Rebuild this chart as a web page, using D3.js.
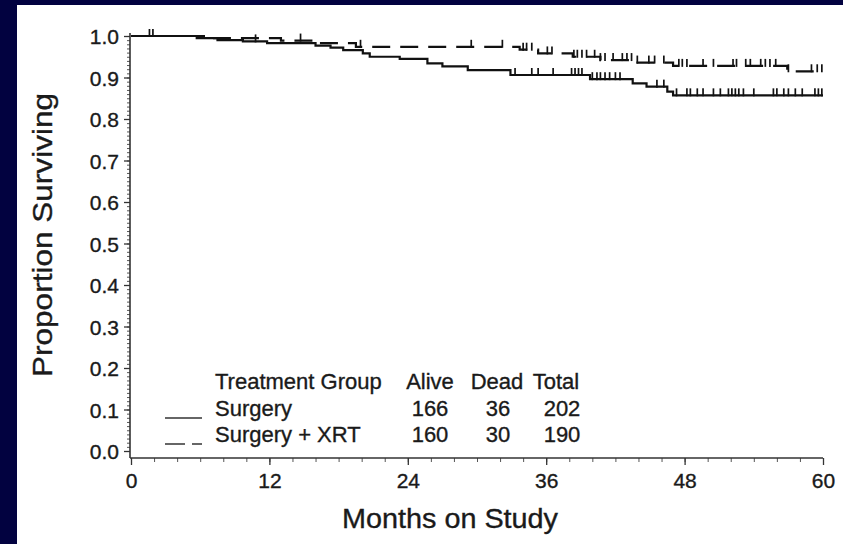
<!DOCTYPE html>
<html>
<head>
<meta charset="utf-8">
<script src="https://cdn.jsdelivr.net/npm/d3@7"></script>
<style>
  body { margin: 0; background: #020240; }
  svg { display: block; }
  text { font-family: "Liberation Sans", Arial, Helvetica, sans-serif; fill: #1a1a1a; stroke: #1a1a1a; stroke-width: 0.35px; }
</style>
</head>
<body>
<svg id="chart" width="843" height="544"></svg>
<script>
// Kaplan-Meier step values
var surgeryMonths = [0, 5.7, 7.5, 9.7, 11.8, 16.0, 17.3, 18.4, 20.1, 20.7, 23.3, 25.7, 27.0, 29.2, 32.9, 39.8, 43.5, 44.7, 46.5, 47.0, 60]
var surgerySurv   = [1.0, 0.995, 0.990, 0.987, 0.983, 0.977, 0.972, 0.966, 0.958, 0.950, 0.945, 0.934, 0.927, 0.918, 0.906, 0.896, 0.886, 0.878, 0.866, 0.857, 0.857]
var xrtMonths = [0, 7.0, 13.0, 16.0, 19.5, 33.7, 35.3, 38.3, 40.7, 43.5, 47.0, 56.9, 60]
var xrtSurv   = [1.0, 0.995, 0.989, 0.983, 0.974, 0.967, 0.958, 0.950, 0.942, 0.936, 0.928, 0.915, 0.915]

// censored observations (months)
var surgeryCensor = [1.6, 10.8, 33.3, 34.75, 35.3, 36.6, 38.2, 38.5, 38.8, 39.1, 40.0, 40.4, 40.7, 41.1, 41.5, 42.0, 42.4,
  45.6, 46.2, 47.3, 48.2, 48.5, 49.1, 49.6, 50.5, 51.1, 51.8, 52.1, 52.4, 52.7, 53.1, 54.0, 55.7, 56.0, 56.6, 57.0, 57.6,
  58.2, 59.3, 59.6, 59.9]
var xrtCensor = [1.9, 14.7, 19.9, 29.5, 32.2, 34.0, 34.3, 34.75, 36.1, 36.5, 38.4, 38.7, 39.1, 39.5, 40.2, 40.7, 41.1, 41.8,
  42.6, 43.0, 43.4, 43.9, 44.9, 45.4, 46.2, 47.5, 47.8, 48.2, 49.6, 50.5, 52.2, 52.5, 53.3, 53.7, 54.6, 55.0, 55.4, 55.9,
  57.0, 59.0, 59.5, 59.9]

// legend table
var groups = ["Surgery", "Surgery + XRT"]
var alive = [166, 160]
var dead = [36, 30]
var total = [202, 190]
var tableHeads = ["Treatment Group", "Alive", "Dead", "Total"]

var xTicks = [0, 12, 24, 36, 48, 60]
var yTicks = d3.range(0, 11).map(d => d / 10)

const svg = d3.select("#chart")

svg.append("rect").attr("x", 17).attr("y", 5).attr("width", 826).attr("height", 539).attr("fill", "#fff")

const x = d3.scaleLinear().domain([0, 60]).range([131, 823])
const y = d3.scaleLinear().domain([0, 1]).range([451, 36])
const xAxisY = 458
const axisCol = "#333"

// y axis
const yMinor = svg.append("g").attr("transform", "translate(130,0)")
  .call(d3.axisLeft(y).tickValues(d3.range(0, 101).map(d => d / 100)).tickSize(3).tickFormat(""))
yMinor.select(".domain").remove()
yMinor.selectAll("line").attr("stroke", "#555")

const yAx = svg.append("g").attr("transform", "translate(130,0)")
  .call(d3.axisLeft(y).tickValues(yTicks).tickSize(6).tickPadding(5).tickFormat(d3.format(".1f")))
yAx.select(".domain").remove()
yAx.selectAll("line").attr("stroke", axisCol).attr("stroke-width", 1.3)
yAx.selectAll("text").style("font-size", "21px").attr("dy", "0.36em")

svg.append("line").attr("x1", 130).attr("x2", 130).attr("y1", y(1) - 3).attr("y2", xAxisY)
  .attr("stroke", axisCol).attr("stroke-width", 1.6)

// x axis
const xMinor = svg.append("g").attr("transform", `translate(0,${xAxisY})`)
  .call(d3.axisBottom(x).tickValues(d3.range(0, 61, 2)).tickSize(4).tickFormat(""))
xMinor.select(".domain").remove()
xMinor.selectAll("line").attr("stroke", "#555")

const xAx = svg.append("g").attr("transform", `translate(0,${xAxisY})`)
  .call(d3.axisBottom(x).tickValues(xTicks).tickSize(7).tickPadding(8))
xAx.select(".domain").remove()
xAx.selectAll("line").attr("stroke", axisCol).attr("stroke-width", 1.3)
xAx.selectAll("text").style("font-size", "21px")

svg.append("line").attr("x1", 130).attr("x2", x(60)).attr("y1", xAxisY).attr("y2", xAxisY)
  .attr("stroke", axisCol).attr("stroke-width", 1.6)

// axis titles
svg.append("text").attr("transform", "translate(52,235) rotate(-90)")
  .attr("text-anchor", "middle").style("font-size", "28px")
  .attr("textLength", 284).attr("lengthAdjust", "spacingAndGlyphs")
  .text("Proportion Surviving")
svg.append("text").attr("x", 450).attr("y", 528)
  .attr("text-anchor", "middle").style("font-size", "27px")
  .attr("textLength", 216).attr("lengthAdjust", "spacingAndGlyphs")
  .text("Months on Study")

// curves
function stepValue (months, surv, t) {
  var i = d3.bisectRight(months, t) - 1
  return surv[Math.max(0, i)]
}

const stepLine = d3.line().x(d => x(d[0])).y(d => y(d[1])).curve(d3.curveStepAfter)

function drawCurve (months, surv, censor, dash) {
  var pts = months.map((m, i) => [m, surv[i]])
  svg.append("path").datum(pts).attr("d", stepLine)
    .attr("fill", "none").attr("stroke", "#111").attr("stroke-width", 2.2)
    .attr("stroke-dasharray", dash)
  svg.append("g").selectAll("line").data(censor).join("line")
    .attr("x1", d => x(d)).attr("x2", d => x(d))
    .attr("y1", d => y(stepValue(months, surv, d)) - 7)
    .attr("y2", d => y(stepValue(months, surv, d)) + 1)
    .attr("stroke", "#111").attr("stroke-width", 1.7)
}

drawCurve(surgeryMonths, surgerySurv, surgeryCensor, null)
drawCurve(xrtMonths, xrtSurv, xrtCensor, "18,10")

// legend table
const colX = [215, 430, 497, 556]
const numX = [430, 498, 562]
const rowY = [389, 416, 442]
svg.append("g").selectAll("text").data(tableHeads).join("text")
  .attr("x", (d, i) => colX[i]).attr("y", rowY[0])
  .attr("text-anchor", (d, i) => i == 0 ? "start" : "middle")
  .style("font-size", "22px").text(d => d)

groups.forEach((g, i) => {
  var yy = rowY[i + 1]
  svg.append("line").attr("x1", 165).attr("x2", 202).attr("y1", yy + 2).attr("y2", yy + 2)
    .attr("stroke", "#666").attr("stroke-width", 2)
    .attr("stroke-dasharray", i == 1 ? "20,7" : null)
  svg.append("text").attr("x", colX[0]).attr("y", yy).style("font-size", "22px").text(g)
  var nums = [alive[i], dead[i], total[i]]
  nums.forEach((n, j) => {
    svg.append("text").attr("x", numX[j]).attr("y", yy).attr("text-anchor", "middle")
      .style("font-size", "22px").text(n)
  })
})
</script>
</body>
</html>
